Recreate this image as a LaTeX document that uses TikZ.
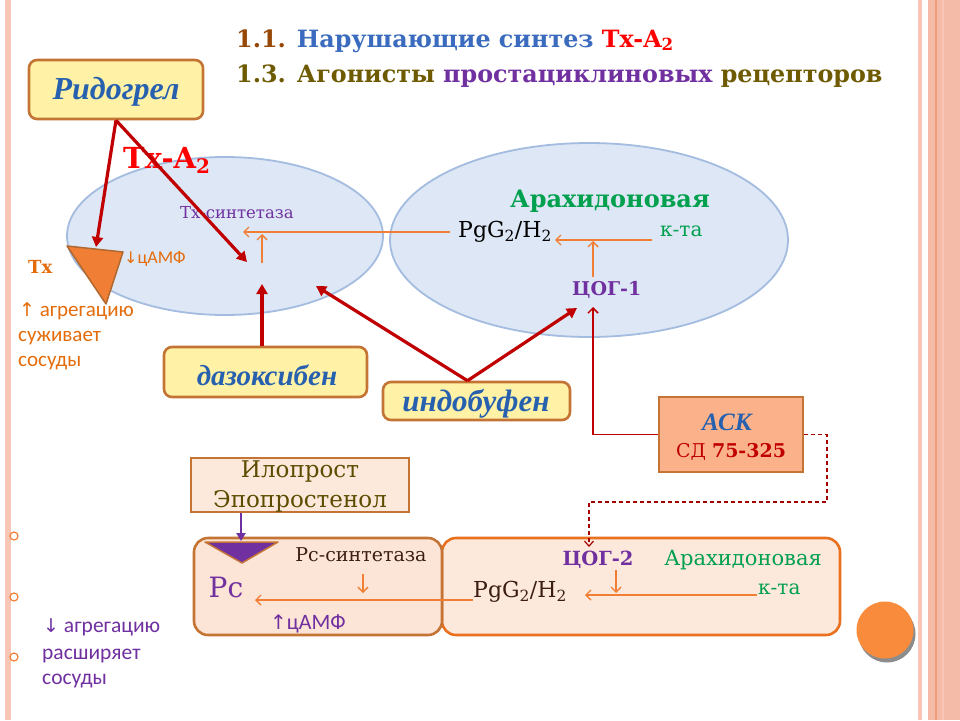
\documentclass[tikz,border=0pt]{standalone}
\usepackage{fontspec}
\setmainfont{DejaVu Serif}
\setsansfont{Carlito}
\newfontfamily\itf{Liberation Serif}
\newfontfamily\arrf{DejaVu Sans}
\usetikzlibrary{arrows.meta,shapes.geometric}
\newcommand\fsz[2]{\fontsize{#1}{#2}\selectfont}
\definecolor{stripeA}{HTML}{F9C6B5}
\definecolor{stripeB}{HTML}{F4BCA8}
\definecolor{stripeC}{HTML}{EE9C7A}
\definecolor{ellF}{HTML}{DDE7F5}
\definecolor{ellD}{HTML}{A3BCE0}
\definecolor{yelF}{HTML}{FFF2A6}
\definecolor{boxD}{HTML}{C47434}
\definecolor{drugB}{HTML}{2660AE}
\definecolor{dred}{HTML}{C00000}
\definecolor{orgA}{HTML}{F07F35}
\definecolor{orgT}{HTML}{E46C0A}
\definecolor{purp}{HTML}{7030A0}
\definecolor{grn}{HTML}{00A04E}
\definecolor{olive}{HTML}{6E5A00}
\definecolor{oliveD}{HTML}{5C4C00}
\definecolor{brownT}{HTML}{984806}
\definecolor{titleB}{HTML}{3A6BBE}
\definecolor{peach}{HTML}{FDE9DC}
\definecolor{peachL}{HTML}{FCE4D6}
\definecolor{orgBorder}{HTML}{E8701E}
\definecolor{askF}{HTML}{FBB28A}
\definecolor{dbrown}{HTML}{3C1E10}
\definecolor{ciro}{HTML}{F98C3C}
\begin{document}
\begin{tikzpicture}[x=1pt,y=-1pt,
  redarr/.style={draw=dred, line width=3.2pt, -{Triangle[length=10pt,width=11pt]}},
  oarr/.style={draw=orgA, line width=1.4pt, -{Straight Barb[length=5pt,width=10pt]}},
  tred/.style={draw=dred, line width=1.5pt, -{Straight Barb[length=5pt,width=10pt]}},
  dashred/.style={draw=dred!85!black, line width=1.2pt, dash pattern=on 4pt off 3pt, -{Straight Barb[length=5pt,width=9pt]}},
  yelbox/.style={draw=boxD, fill=yelF, line width=2.6pt, rounded corners=8pt, inner sep=0pt},
  drugtxt/.style={font=\itf\bfseries\itshape\fsz{29}{32}, text=drugB},
  ell/.style={ellipse, draw=ellD, fill=ellF, line width=1.8pt, inner sep=0pt},
  lowbox/.style={rounded corners=14pt, line width=2.6pt, inner sep=0pt},
  bul/.style={circle, draw=orgA, line width=1.2pt, minimum size=8pt, inner sep=0pt}
]
\useasboundingbox (0,0) rectangle (960,720);
\fill[white] (0,0) rectangle (960,720);
% borders
\fill[stripeA] (5,0) rectangle (11,720);
\fill[stripeA] (918,0) rectangle (922,720);
\fill[stripeB] (928,0) rectangle (960,720);
\fill[stripeC] (935,0) rectangle (937,720);
\fill[stripeA] (942,0) rectangle (944,720);

% title
\node[anchor=base west, inner sep=0pt, font=\bfseries\fsz{23.8}{27}] (t1) at (236,47)
  {\textcolor{brownT}{1.1.} \textcolor{titleB}{Нарушающие синтез} \textcolor{red}{Tx-A\textsubscript{2}}};
\node[anchor=base west, inner sep=0pt, font=\bfseries\fsz{23.8}{27}] (t2) at (236,82)
  {\textcolor{olive}{1.3. Агонисты} \textcolor{purp}{простациклиновых} \textcolor{olive}{рецепторов}};

% ellipses
\node[ell, minimum width=316pt, minimum height=158pt] (eL) at (225,236) {};
\node[ell, minimum width=398pt, minimum height=194pt] (eR) at (589,240) {};

% Ridogrel box
\node[yelbox, minimum width=174pt, minimum height=59pt] (rid) at (116,89.5) {};
\node[drugtxt, font=\itf\bfseries\itshape\fsz{32}{34}] (ridt) at (116,92) {Ридогрел};

% Tx-A2 label
\node[anchor=base west, inner sep=0pt, text=red, font=\bfseries\fsz{29}{32}] (txa) at (123,168) {Tx-A{\fsz{20}{22}\raisebox{-5pt}{2}}};

% triangle
\coordinate (triA) at (67,246);
\coordinate (triB) at (123,252);
\coordinate (triC) at (106,304);
\coordinate (triTop) at (96,247);
\draw[draw=boxD!90!black, fill=orgA, line width=1.5pt, line join=round] (triA) -- (triB) -- (triC) -- cycle;

\node[anchor=base west, inner sep=0pt, text=orgT, font=\bfseries\fsz{18}{20}] (tx) at (28,273) {Tx};
\node[anchor=base west, inner sep=0pt, text=orgT, font=\sffamily\fsz{18}{21}] (camp1) at (124,263) {{\arrf\fsz{16}{18}↓}цАМФ};
\node[anchor=base west, inner sep=0pt, text=orgT, font=\sffamily\fsz{21}{24}] (ag1) at (19,316) {{\arrf\fsz{19}{22}↑} агрегацию};
\node[anchor=base west, inner sep=0pt, text=orgT, font=\sffamily\fsz{21}{24}] (ag2) at (18,341) {суживает};
\node[anchor=base west, inner sep=0pt, text=orgT, font=\sffamily\fsz{21}{24}] (ag3) at (18,366) {сосуды};

% left ellipse content
\node[text=purp, font=\fsz{16.5}{19}, inner sep=0pt] (txs) at (237,213) {Tx-синтетаза};
\coordinate (txTip) at (243,232);
\coordinate (txUpS) at (262,263);
\coordinate (txUpE) at (262,234);
\coordinate (ridTip) at (247,262);
\coordinate (dazTip) at (262,284);
\coordinate (indTipL) at (316,286);

% right ellipse content
\node[anchor=base west, inner sep=0pt, font=\fsz{22}{25}] (pg1) at (458,237) {PgG\textsubscript{2}/H\textsubscript{2}};
\node[anchor=base, inner sep=0pt, text=grn, font=\bfseries\fsz{24}{27}] (arA) at (610,207) {Арахидоновая};
\node[anchor=base west, inner sep=0pt, text=grn, font=\fsz{20}{23}] (kta1) at (660,236) {к-та};
\node[anchor=base west, inner sep=0pt, text=purp, font=\bfseries\fsz{19}{22}] (cog1) at (572,295) {ЦОГ-1};
\coordinate (ktaS) at (652,240);
\coordinate (ktaTip) at (555,240);
\coordinate (cogUpS) at (593,277);
\coordinate (cogUpE) at (593,241);
\coordinate (cogTipA) at (577,308);
\coordinate (cogTipB) at (593,307);

% orange arrows top
\draw[oarr] (pg1.west |- txTip) ++(-8,0) -- (txTip);
\draw[oarr] (txUpS) -- (txUpE);
\draw[oarr] (ktaS) -- (ktaTip);
\draw[oarr] (cogUpS) -- (cogUpE);

% drug boxes
\node[yelbox, minimum width=203pt, minimum height=50pt] (daz) at (265.5,372) {};
\node[drugtxt] (dazt) at (267,375) {дазоксибен};
\node[yelbox, minimum width=187pt, minimum height=38pt] (ind) at (476.5,401) {};
\node[drugtxt, font=\itf\bfseries\itshape\fsz{31}{33}] (indt) at (476,404) {индобуфен};

% ASK box
\node[draw=boxD, fill=askF, line width=2.6pt, minimum width=144pt, minimum height=75pt, inner sep=0pt] (ask) at (731,434.5) {};
\node[text=drugB, font=\itf\bfseries\itshape\fsz{25}{28}, inner sep=0pt] (askt) at (727,422) {АСК};
\node[text=dred, font=\fsz{19}{22}, inner sep=0pt] (sd) at (731,452) {СД \textbf{75-325}};

% red arrows
\draw[redarr] (rid.south) -- (triTop);
\draw[redarr] (rid.south) -- (ridTip);
\draw[redarr] (dazTip |- daz.north) -- (dazTip);
\draw[redarr] ([xshift=-9pt]ind.north) -- (indTipL);
\draw[redarr] ([xshift=-9pt]ind.north) -- (cogTipA);
\draw[tred] (ask.west) -| (cogTipB);

% lower boxes
\node[lowbox, draw=orgBorder, fill=peach, minimum width=398pt, minimum height=97pt] (boxR) at (641,586.5) {};
\node[lowbox, draw=boxD, fill=peachL, minimum width=248pt, minimum height=97pt] (boxL) at (318,586.5) {};

% dashed connector
\coordinate (dashR) at (827,502);
\coordinate (cog2Tip) at (589,547);
\draw[dashred] (ask.east) -| (dashR) -| (cog2Tip);

% Iloprost box
\node[draw=boxD, fill=peach, line width=2pt, minimum width=218pt, minimum height=54pt, inner sep=0pt] (ilo) at (300,485) {};
\node[text=oliveD, font=\fsz{23}{26}, inner sep=0pt] (ilo1) at (300,472) {Илопрост};
\node[text=oliveD, font=\fsz{23}{26}, inner sep=0pt] (ilo2) at (300,501) {Эпопростенол};
\coordinate (iloTip) at (241,541);
\draw[draw=purp, line width=2.8pt, -{Triangle[length=8pt,width=9pt]}] (iloTip |- ilo.south) -- (iloTip);

% purple triangle
\draw[draw=boxD, fill=purp, line width=1.5pt, line join=round] (205,542) -- (278,542) -- (242,563) -- cycle;

% lower left content
\node[text=purp, font=\fsz{28}{31}, inner sep=0pt] (rc) at (226,587) {Рс};
\node[text=dbrown, font=\fsz{19}{22}, inner sep=0pt] (rcs) at (361,555) {Рс-синтетаза};
\node[anchor=base west, inner sep=0pt, text=purp, font=\sffamily\fsz{22}{25}] (camp2) at (270,629) {{\arrf\fsz{20}{22}↑}цАМФ};
\coordinate (rcTip) at (255,600);
\coordinate (rcDnS) at (363,574);
\coordinate (rcDnE) at (363,593);

% lower right content
\node[text=purp, font=\bfseries\fsz{19.5}{22}, inner sep=0pt] (cog2) at (598,560) {ЦОГ-2};
\node[text=grn, font=\fsz{21}{23}, inner sep=0pt] (arB) at (743,560) {Арахидоновая};
\node[anchor=base west, inner sep=0pt, text=dbrown, font=\fsz{22}{25}] (pg2) at (473,597) {PgG\textsubscript{2}/H\textsubscript{2}};
\node[anchor=base west, inner sep=0pt, text=grn, font=\fsz{20}{23}] (kta2) at (758,594) {к-та};
\coordinate (kta2S) at (757,595);
\coordinate (kta2Tip) at (585,595);
\coordinate (cog2DnS) at (616,570);
\coordinate (cog2DnE) at (616,593);

\draw[oarr] (pg2.west |- rcTip) -- (rcTip);
\draw[oarr] (rcDnS) -- (rcDnE);
\draw[oarr] (kta2S) -- (kta2Tip);
\draw[oarr] (cog2DnS) -- (cog2DnE);

% left annotations lower
\node[bul] (b1) at (14,536) {};
\node[bul] (b2) at (14,597) {};
\node[bul] (b3) at (14,657) {};
\node[anchor=base west, inner sep=0pt, text=purp, font=\sffamily\fsz{21.5}{24}] (ag4) at (43,632) {{\arrf\fsz{19}{22}↓} агрегацию};
\node[anchor=base west, inner sep=0pt, text=purp, font=\sffamily\fsz{21.5}{24}] (ag5) at (42,659) {расширяет};
\node[anchor=base west, inner sep=0pt, text=purp, font=\sffamily\fsz{21.5}{24}] (ag6) at (42,684) {сосуды};

% orange circle with shadow
\fill[black!45] (887,634) circle (28.5);
\fill[ciro] (885,630) circle (28.5);
\end{tikzpicture}
\end{document}
